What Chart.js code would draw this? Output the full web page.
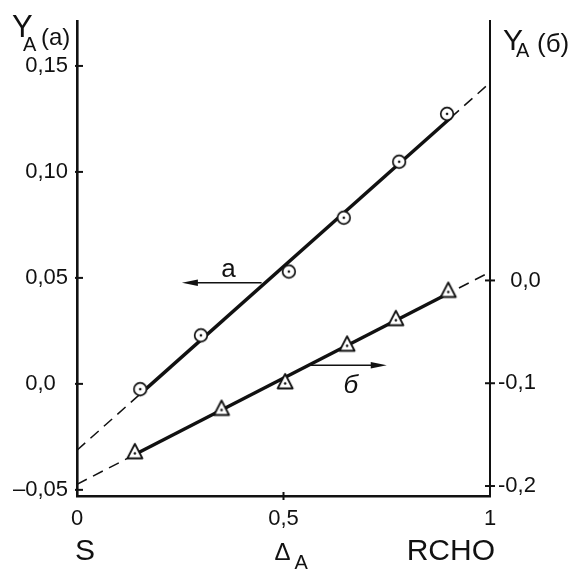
<!DOCTYPE html>
<html lang="ru">
<head>
<meta charset="UTF-8">
<title>Y_A (a), Y_A (б)</title>
<script src="https://cdn.jsdelivr.net/npm/chart.js"></script>
<style>
  body { margin: 0; background: #fff; }
</style>
</head>
<body>
<canvas id="chart" width="572" height="570"></canvas>
<script>
// series a (circles, left axis)
const xA = [0.153, 0.300, 0.513, 0.646, 0.780, 0.896];
const yA = [-0.0025, 0.0229, 0.0530, 0.0784, 0.1048, 0.1274];
// series б (triangles, right axis)
const xB = [0.140, 0.350, 0.504, 0.654, 0.772, 0.899];
const yB = [-0.1677, -0.1255, -0.0997, -0.0631, -0.0382, -0.0107];
// straight lines through the points: dashed part, solid part, dashed part
const lineAX = [0, 0.15, 0.905, 1];
const lineAY = [-0.0313, -0.0053, 0.1256, 0.1421];
const lineBX = [0, 0.14, 0.886, 0.992];
const lineBY = [-0.1983, -0.1694, -0.0153, 0.0065];
// ticks
const xTicks = [0, 0.5, 1];
const xTickLabels = ['0', '0,5', '1'];
const yLeftTicks = [-0.05, 0, 0.05, 0.10, 0.15];
const yLeftLabels = ['–0,05', '0,0  ', '0,05', '0,10', '0,15'];
const yRightTicks = [-0.2, -0.1, 0];
const yRightLabels = ['-0,2', '-0,1', '  0,0'];

const INK = '#111';
const FONT = '"Liberation Sans", Arial, sans-serif';

const toPoints = (xs, ys) => xs.map((x, i) => ({ x: x, y: ys[i] }));

// marker: circle with a dot
function circleMark() {
    const c = document.createElement('canvas');
    c.width = 18; c.height = 18;
    const g = c.getContext('2d');
    g.beginPath(); g.arc(9, 9, 6.3, 0, Math.PI * 2);
    g.fillStyle = '#fff'; g.fill();
    g.lineWidth = 1.7; g.strokeStyle = INK; g.stroke();
    g.beginPath(); g.arc(9, 9, 1.3, 0, Math.PI * 2);
    g.fillStyle = INK; g.fill();
    return c;
}

// marker: triangle with a dot
function triMark() {
    const c = document.createElement('canvas');
    c.width = 22; c.height = 22;
    const g = c.getContext('2d');
    g.beginPath();
    g.moveTo(11, 2); g.lineTo(3.5, 16.5); g.lineTo(18.5, 16.5); g.closePath();
    g.fillStyle = '#fff'; g.fill();
    g.lineWidth = 1.8; g.strokeStyle = INK; g.lineJoin = 'round'; g.stroke();
    g.beginPath(); g.arc(11, 11.5, 1.3, 0, Math.PI * 2);
    g.fillStyle = INK; g.fill();
    return c;
}

// middle segment solid and thick, outer segments thin dashed
const fitSegment = {
    borderWidth: ctx => ctx.p0DataIndex === 1 ? 3.4 : 1.5,
    borderDash: ctx => ctx.p0DataIndex === 1 ? [] : [11, 7]
};

const decor = {
    id: 'decor',
    afterDraw(chart) {
        const { ctx, chartArea: a, scales: { x, y, y2 } } = chart;
        ctx.save();
        ctx.strokeStyle = INK;
        ctx.fillStyle = INK;
        ctx.lineWidth = 2;

        function seg(x1, y1, x2, y2_) {
            ctx.beginPath(); ctx.moveTo(x1, y1); ctx.lineTo(x2, y2_); ctx.stroke();
        }
        function arrow(x1, yy, x2) {
            const dir = Math.sign(x2 - x1);
            ctx.lineWidth = 1.5;
            seg(x1, yy, x2 - dir * 10, yy);
            ctx.beginPath();
            ctx.moveTo(x2, yy);
            ctx.lineTo(x2 - dir * 16, yy - 3.2);
            ctx.lineTo(x2 - dir * 16, yy + 3.2);
            ctx.closePath();
            ctx.fill();
        }

        // tick marks across the axes
        ctx.lineWidth = 2;
        yLeftTicks.forEach(v => {
            const p = y.getPixelForValue(v);
            seg(a.left - 2, p, a.left + 6, p);
        });
        yRightTicks.forEach(v => {
            const p = y2.getPixelForValue(v);
            seg(a.right - 5, p, a.right + 5, p);
        });
        xTicks.filter(v => v > 0 && v < 1).forEach(v => {
            const p = x.getPixelForValue(v);
            seg(p, a.bottom - 4, p, a.bottom + 4);
        });

        // arrows pointing to the axis of each series
        arrow(x.getPixelForValue(0.447), y.getPixelForValue(0.0477), x.getPixelForValue(0.254));
        arrow(x.getPixelForValue(0.566), y2.getPixelForValue(-0.0825), x.getPixelForValue(0.750));

        ctx.textAlign = 'center';
        ctx.textBaseline = 'alphabetic';
        ctx.font = '26px ' + FONT;
        ctx.fillText('a', x.getPixelForValue(0.367), y.getPixelForValue(0.0502));
        ctx.font = 'italic 26px ' + FONT;
        ctx.fillText('б', x.getPixelForValue(0.663), y2.getPixelForValue(-0.1097));

        // names under the x axis
        ctx.font = '30px ' + FONT;
        ctx.fillText('S', x.getPixelForValue(0) + 8, 560);
        ctx.textAlign = 'right';
        ctx.fillText('RCHO', x.getPixelForValue(1) + 5, 560);
        ctx.textAlign = 'center';
        ctx.font = '24px ' + FONT;
        ctx.fillText('Δ', x.getPixelForValue(0.5) - 1, 560);
        ctx.textAlign = 'left';
        ctx.font = '20px ' + FONT;
        ctx.fillText('A', x.getPixelForValue(0.5) + 11, 569);

        // axis titles
        ctx.font = '31px ' + FONT;
        ctx.fillText('Y', 12, 37);
        ctx.font = '20px ' + FONT;
        ctx.fillText('A', 23, 51);
        ctx.font = '24px ' + FONT;
        ctx.fillText('(a)', 41, 45);

        ctx.font = '30px ' + FONT;
        ctx.fillText('Y', 503, 50);
        ctx.font = '20px ' + FONT;
        ctx.fillText('A', 516, 57);
        ctx.font = '26px ' + FONT;
        ctx.fillText('(б)', 537, 52);

        ctx.restore();
    }
};

const tickFont = { family: FONT, size: 22 };

new Chart(document.getElementById('chart'), {
    type: 'scatter',
    data: {
        datasets: [
            {
                label: 'a',
                data: toPoints(xA, yA),
                yAxisID: 'y',
                showLine: false,
                pointStyle: circleMark(),
                pointRadius: 7
            },
            {
                label: 'б',
                data: toPoints(xB, yB),
                yAxisID: 'y2',
                showLine: false,
                pointStyle: triMark(),
                pointRadius: 8
            },
            {
                label: 'line a',
                data: toPoints(lineAX, lineAY),
                yAxisID: 'y',
                showLine: true,
                pointRadius: 0,
                borderColor: INK,
                borderWidth: 3.4,
                segment: fitSegment
            },
            {
                label: 'line б',
                data: toPoints(lineBX, lineBY),
                yAxisID: 'y2',
                showLine: true,
                pointRadius: 0,
                borderColor: INK,
                borderWidth: 3.4,
                segment: fitSegment
            }
        ]
    },
    options: {
        responsive: false,
        animation: false,
        layout: { padding: { top: 21, left: 0, right: 0, bottom: 0 } },
        plugins: {
            legend: { display: false },
            tooltip: { enabled: false }
        },
        scales: {
            x: {
                type: 'linear',
                position: 'bottom',
                min: 0,
                max: 1,
                afterBuildTicks: s => { s.ticks = xTicks.map(v => ({ value: v })); },
                afterFit: s => { s.height = 74; },
                ticks: {
                    callback: v => xTickLabels[xTicks.indexOf(v)],
                    font: tickFont,
                    color: INK,
                    padding: 2,
                    maxRotation: 0,
                    autoSkip: false
                },
                grid: { display: false },
                border: { display: true, color: INK, width: 2.5 }
            },
            y: {
                type: 'linear',
                position: 'left',
                min: -0.0529,
                max: 0.1712,
                afterBuildTicks: s => { s.ticks = yLeftTicks.map(v => ({ value: v })); },
                afterFit: s => { s.width = 77; },
                ticks: {
                    callback: v => yLeftLabels[yLeftTicks.indexOf(v)],
                    font: tickFont,
                    color: INK,
                    padding: 1,
                    autoSkip: false
                },
                grid: { display: false },
                border: { display: true, color: INK, width: 2.6 }
            },
            y2: {
                type: 'linear',
                position: 'right',
                min: -0.2097,
                max: 0.2524,
                afterBuildTicks: s => { s.ticks = yRightTicks.map(v => ({ value: v })); },
                afterFit: s => { s.width = 82; },
                ticks: {
                    callback: v => yRightLabels[yRightTicks.indexOf(v)],
                    font: tickFont,
                    color: INK,
                    padding: 0,
                    autoSkip: false
                },
                grid: { display: false },
                border: { display: true, color: INK, width: 2 }
            }
        }
    },
    plugins: [decor]
});
</script>
</body>
</html>
